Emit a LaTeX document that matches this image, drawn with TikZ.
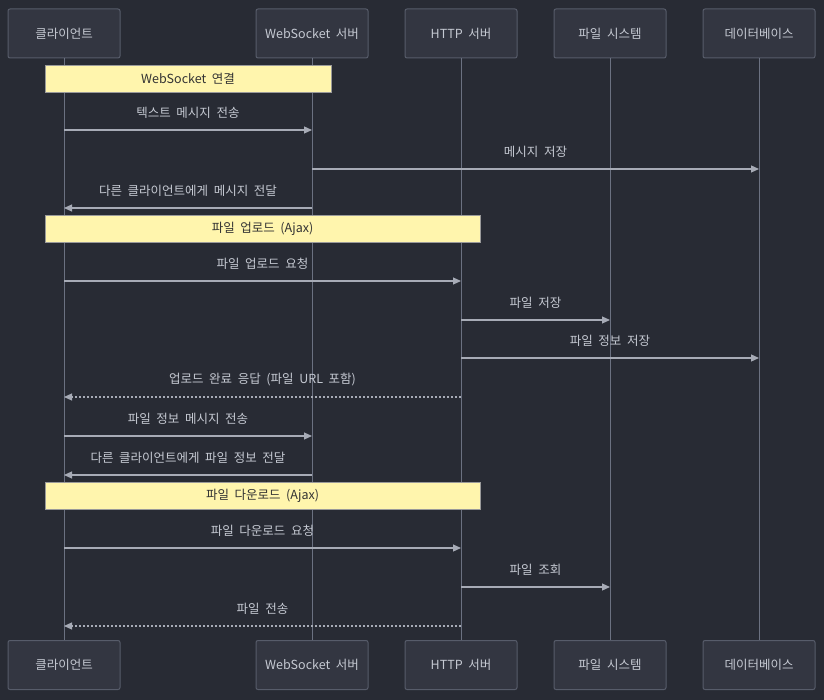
\documentclass[tikz,border=0pt]{standalone}
\usepackage{fontspec}
\setmainfont{Noto Sans CJK KR}
\usepackage{xcolor}
\usetikzlibrary{arrows.meta, positioning, calc}

\definecolor{bgdark}{HTML}{282B34}
\definecolor{boxfill}{HTML}{333641}
\definecolor{boxline}{HTML}{575C6A}
\definecolor{lifeline}{HTML}{6B7181}
\definecolor{msgline}{HTML}{A7ABB6}
\definecolor{txtlight}{HTML}{C5C9D2}
\definecolor{notefill}{HTML}{FFF5AD}
\definecolor{noteline}{HTML}{9A9A9A}

\newcommand{\seqfont}{\fontsize{12.5}{15}\selectfont\spaceskip=0.45em\relax}

\begin{document}
\begin{tikzpicture}[
    x=1pt, y=-1pt,
    actor/.style={draw=boxline, fill=boxfill, rounded corners=2pt, minimum width=112pt, minimum height=49pt, line width=1pt, font=\seqfont, text=txtlight},
    note/.style={draw=noteline, fill=notefill, minimum height=27pt, line width=0.8pt, font=\seqfont, text=black!80},
    life/.style={draw=lifeline, line width=1pt},
    msg/.style={draw=msgline, line width=1.2pt, -{Triangle[length=8pt, width=7pt]}},
    reply/.style={msg, dash pattern=on 2pt off 2pt},
    lbl/.style={midway, yshift=17pt, font=\seqfont, text=txtlight}
]
\useasboundingbox (0,0) rectangle (824,700);
\fill[bgdark] (0,0) rectangle (824,700);

% Participants (top)
\node[actor] (cl) at (64, 33.5) {클라이언트};
\node[actor] (ws) at (312, 33.5) {WebSocket 서버};
\node[actor] (hs) at (461, 33.5) {HTTP 서버};
\node[actor] (fs) at (610, 33.5) {파일 시스템};
\node[actor] (db) at (759, 33.5) {데이터베이스};

% Participants (bottom)
\node[actor] (clb) at (64, 665) {클라이언트};
\node[actor] (wsb) at (312, 665) {WebSocket 서버};
\node[actor] (hsb) at (461, 665) {HTTP 서버};
\node[actor] (fsb) at (610, 665) {파일 시스템};
\node[actor] (dbb) at (759, 665) {데이터베이스};

% Lifelines
\foreach \a in {cl, ws, hs, fs, db}
    \draw[life] (\a.south) -- (\a b.north);

% Notes
\node[note, minimum width=286pt] (n1) at (188, 78.5) {WebSocket 연결};
\node[note, minimum width=435pt] (n2) at (262.5, 229) {파일 업로드 (Ajax)};
\node[note, minimum width=435pt] (n3) at (262.5, 496) {파일 다운로드 (Ajax)};

% Message rows
\coordinate (m1) at (0, 130);
\coordinate (m2) at (0, 169);
\coordinate (m3) at (0, 208);
\coordinate (m4) at (0, 281);
\coordinate (m5) at (0, 320);
\coordinate (m6) at (0, 358);
\coordinate (m7) at (0, 397);
\coordinate (m8) at (0, 436);
\coordinate (m9) at (0, 475);
\coordinate (m10) at (0, 548);
\coordinate (m11) at (0, 587);
\coordinate (m12) at (0, 626);

% Chat
\draw[msg] (cl |- m1) -- (ws |- m1) node[lbl] {텍스트 메시지 전송};
\draw[msg] (ws |- m2) -- (db |- m2) node[lbl] {메시지 저장};
\draw[msg] (ws |- m3) -- (cl |- m3) node[lbl] {다른 클라이언트에게 메시지 전달};

% Upload
\draw[msg] (cl |- m4) -- (hs |- m4) node[lbl] {파일 업로드 요청};
\draw[msg] (hs |- m5) -- (fs |- m5) node[lbl] {파일 저장};
\draw[msg] (hs |- m6) -- (db |- m6) node[lbl] {파일 정보 저장};
\draw[reply] (hs |- m7) -- (cl |- m7) node[lbl] {업로드 완료 응답 (파일 URL 포함)};
\draw[msg] (cl |- m8) -- (ws |- m8) node[lbl] {파일 정보 메시지 전송};
\draw[msg] (ws |- m9) -- (cl |- m9) node[lbl] {다른 클라이언트에게 파일 정보 전달};

% Download
\draw[msg] (cl |- m10) -- (hs |- m10) node[lbl] {파일 다운로드 요청};
\draw[msg] (hs |- m11) -- (fs |- m11) node[lbl] {파일 조회};
\draw[reply] (hs |- m12) -- (cl |- m12) node[lbl] {파일 전송};

\end{tikzpicture}
\end{document}
